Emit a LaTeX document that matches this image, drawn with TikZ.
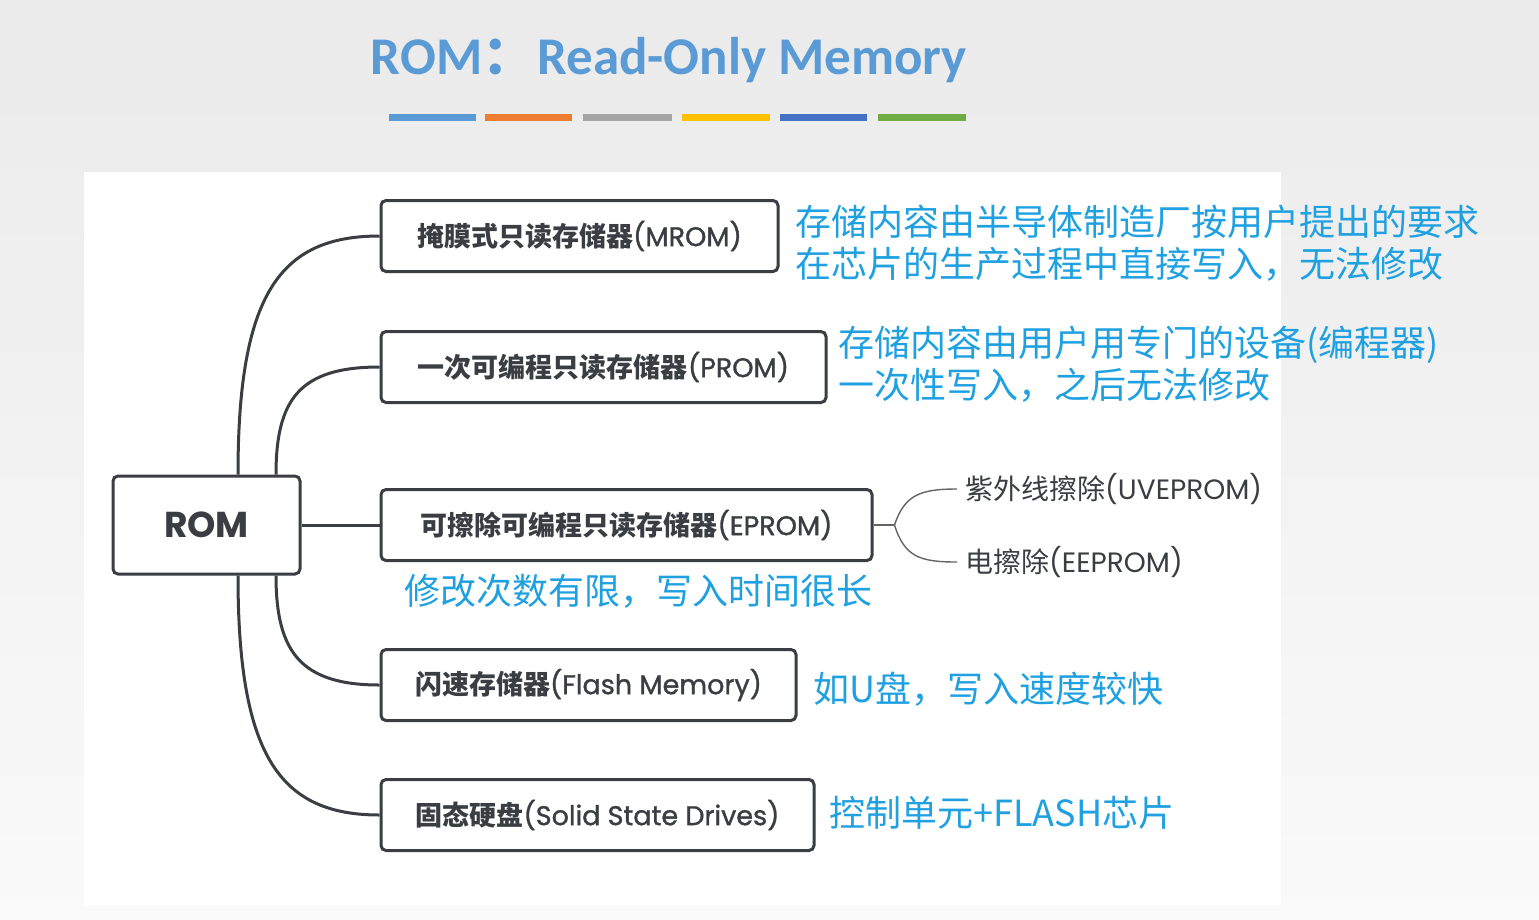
\documentclass[tikz,border=0pt]{standalone}
\usepackage{fontspec}
\usetikzlibrary{calc}
\newfontfamily\cjk{Noto Sans CJK SC}
\newfontfamily\pop{Poppins}
\newfontfamily\popb{Poppins}[FakeBold=1.2]
\newfontfamily\carl{Carlito}
\definecolor{tblue}{RGB}{91,155,213}
\definecolor{borange}{RGB}{237,125,49}
\definecolor{bgray}{RGB}{165,165,165}
\definecolor{byellow}{RGB}{255,192,0}
\definecolor{bdblue}{RGB}{68,114,196}
\definecolor{bgreen}{RGB}{112,173,71}
\definecolor{ink}{RGB}{58,61,66}
\definecolor{note}{RGB}{30,160,225}
\definecolor{sub}{RGB}{100,100,100}
\tikzset{
  box/.style={draw=ink, line width=3pt, rounded corners=5pt, fill=white, text=ink,
    inner sep=0pt, minimum height=71pt, font=\fontsize{27}{30}\selectfont},
  link/.style={draw=ink, line width=3pt},
  sublink/.style={draw=sub, line width=1.4pt},
  subtext/.style={anchor=west, text=ink, inner sep=0pt, font=\fontsize{28}{32}\selectfont},
  notetext/.style={anchor=west, text=note, inner sep=0pt, align=left,
    font=\cjk\fontsize{36}{42}\selectfont},
  bar/.style={line width=7pt}
}
\begin{document}
\begin{tikzpicture}[x=1pt,y=-1pt]
\useasboundingbox (0,0) rectangle (1539,919);
\shade[top color=black!8, bottom color=black!2] (0,0) rectangle (1539,919);
\fill[white] (84,172) rectangle (1281,905);
% title
\node[text=tblue, inner sep=0pt, font=\carl\bfseries\fontsize{53}{58}\selectfont] (title) at (669,60)
  {ROM{\cjk：}\hspace{2pt}Read-Only Memory};
\draw[bar, draw=tblue]   (389,117) -- (476,117);
\draw[bar, draw=borange] (485,117) -- (572,117);
\draw[bar, draw=bgray]   (583,117) -- (672,117);
\draw[bar, draw=byellow] (682,117) -- (770,117);
\draw[bar, draw=bdblue]  (780,117) -- (867,117);
\draw[bar, draw=bgreen]  (878,117) -- (966,117);
% nodes
\node[box, minimum width=187pt, minimum height=98pt, font=\pop\bfseries\fontsize{36}{40}\selectfont] (rom) at (206.5,525) {ROM};
\node[box, minimum width=397pt] (mrom) at (579.5,236) {{\cjk\bfseries 掩膜式只读存储器}{\popb(MROM)}};
\node[box, minimum width=445pt] (prom) at (603.5,367) {{\cjk\bfseries 一次可编程只读存储器}{\popb(PROM)}};
\node[box, minimum width=491pt] (eprom) at (626.5,525) {{\cjk\bfseries 可擦除可编程只读存储器}{\popb(EPROM)}};
\node[box, minimum width=415pt] (flash) at (588.5,685) {{\cjk\bfseries 闪速存储器}{\popb(Flash Memory)}};
\node[box, minimum width=433pt] (ssd) at (597.5,815) {{\cjk\bfseries 固态硬盘}{\popb(Solid State Drives)}};
% connectors
\draw[link] ($(rom.north)+(31.5,0)$) .. controls ($(rom.north)+(31.5,-180)$) and ($(mrom.west)+(-100,0)$) .. (mrom.west);
\draw[link] ($(rom.north)+(69.5,0)$) .. controls ($(rom.north)+(69.5,-75)$) and ($(prom.west)+(-80,0)$) .. (prom.west);
\draw[link] (rom.east) -- (eprom.west);
\draw[link] ($(rom.south)+(69.5,0)$) .. controls ($(rom.south)+(69.5,75)$) and ($(flash.west)+(-80,0)$) .. (flash.west);
\draw[link] ($(rom.south)+(31.5,0)$) .. controls ($(rom.south)+(31.5,180)$) and ($(ssd.west)+(-100,0)$) .. (ssd.west);
% sub branches
\node[subtext] (uv) at (965,489) {{\cjk 紫外线擦除}{\pop(UVEPROM)}};
\node[subtext] (ee) at (965,562) {{\cjk 电擦除}{\pop(EEPROM)}};
\coordinate (fork) at ($(eprom.east)+(21,0)$);
\draw[sublink] (eprom.east) -- (fork);
\draw[sublink] (fork) .. controls ($(fork)+(10,-30)$) and ($(uv.west)+(-45,0)$) .. ($(uv.west)+(-8,0)$);
\draw[sublink] (fork) .. controls ($(fork)+(10,32)$) and ($(ee.west)+(-45,0)$) .. ($(ee.west)+(-8,0)$);
% notes
\node[notetext] (n1) at (795,243) {存储内容由半导体制造厂按用户提出的要求\\在芯片的生产过程中直接写入，无法修改};
\node[notetext] (n2) at (838,364) {存储内容由用户用专门的设备(编程器)\\一次性写入，之后无法修改};
\node[notetext] (n3) at (404,591) {修改次数有限，写入时间很长};
\node[notetext] (n4) at (813,689) {如U盘，写入速度较快};
\node[notetext] (n5) at (829,813) {控制单元+FLASH芯片};
\end{tikzpicture}
\end{document}
